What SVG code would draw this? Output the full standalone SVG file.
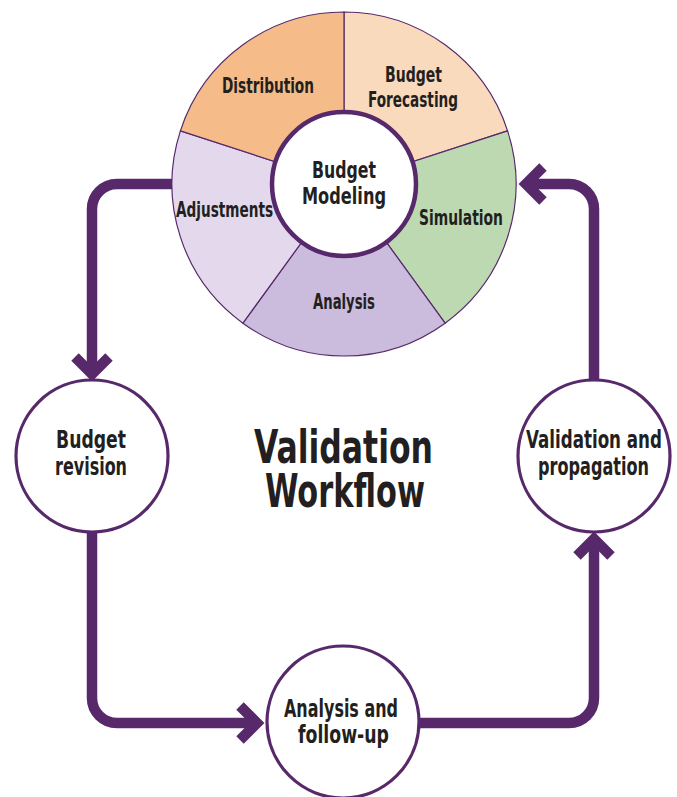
<svg xmlns="http://www.w3.org/2000/svg" width="677" height="797" viewBox="0 0 677 797">
<style>
.t{font-family:"DejaVu Sans Condensed","DejaVu Sans","Liberation Sans",sans-serif;font-weight:bold;fill:#231F20;text-anchor:middle}
.p{font-size:21px}
.n{font-size:24px}
.wedge{stroke:#57296B;stroke-width:1.2}
.node{fill:#FFFFFF;stroke:#57296B;stroke-width:3.2}
.c{fill:none;stroke:#57296B;stroke-width:10.5;stroke-linejoin:miter}
</style>
<rect width="677" height="797" fill="#FFFFFF"/>
<g id="connectors">
<path class="c" d="M172,184 H117 A25,25 0 0 0 92,209 V374"/>
<path class="c" d="M75,357 L92,374 L109,357"/>
<path class="c" d="M92,532 V698 A25,25 0 0 0 117,723 H257"/>
<path class="c" d="M240,706 L257,723 L240,740"/>
<path class="c" d="M420,723 H569 A25,25 0 0 0 594,698 V539"/>
<path class="c" d="M577,556 L594,539 L611,556"/>
<path class="c" d="M594,380 V209 A25,25 0 0 0 569,184 H526"/>
<path class="c" d="M543,167 L526,184 L543,201"/>
</g>
<g id="budget-modeling">
<g id="forecasting"><path class="wedge" fill="#F9DABD" d="M344,184 L344,12 A172,172 0 0 1 507.58,130.85 Z"/>
<text class="t p" x="413.5" y="82" textLength="57" lengthAdjust="spacingAndGlyphs">Budget</text>
<text class="t p" x="413" y="107" textLength="90" lengthAdjust="spacingAndGlyphs">Forecasting</text></g>
<g id="simulation"><path class="wedge" fill="#BDD9B1" d="M344,184 L507.58,130.85 A172,172 0 0 1 445.10,323.15 Z"/>
<text class="t p" x="461" y="225" textLength="84" lengthAdjust="spacingAndGlyphs">Simulation</text></g>
<g id="analysis"><path class="wedge" fill="#CBBBDC" d="M344,184 L445.10,323.15 A172,172 0 0 1 242.90,323.15 Z"/>
<text class="t p" x="344" y="309" textLength="62" lengthAdjust="spacingAndGlyphs">Analysis</text></g>
<g id="adjustments"><path class="wedge" fill="#E4D9EC" d="M344,184 L242.90,323.15 A172,172 0 0 1 180.42,130.85 Z"/>
<text class="t p" x="224.5" y="217" textLength="97" lengthAdjust="spacingAndGlyphs">Adjustments</text></g>
<g id="distribution"><path class="wedge" fill="#F5BB88" d="M344,184 L180.42,130.85 A172,172 0 0 1 344,12 Z"/>
<text class="t p" x="268" y="93" textLength="92" lengthAdjust="spacingAndGlyphs">Distribution</text></g>
<g id="core"><circle cx="344" cy="184" r="72" fill="#FFFFFF" stroke="#57296B" stroke-width="4.5"/>
<text class="t" style="font-size:23px" x="344" y="178" textLength="64" lengthAdjust="spacingAndGlyphs">Budget</text>
<text class="t" style="font-size:23px" x="344" y="204" textLength="84" lengthAdjust="spacingAndGlyphs">Modeling</text></g>
</g>
<g id="budget-revision"><circle class="node" cx="92" cy="456" r="76"/>
<text class="t n" x="91" y="448" textLength="70" lengthAdjust="spacingAndGlyphs">Budget</text>
<text class="t n" x="91" y="475" textLength="72" lengthAdjust="spacingAndGlyphs">revision</text></g>
<g id="validation-propagation"><circle class="node" cx="594" cy="456" r="76"/>
<text class="t n" x="594" y="448" textLength="136" lengthAdjust="spacingAndGlyphs">Validation and</text>
<text class="t n" x="593.5" y="475" textLength="111" lengthAdjust="spacingAndGlyphs">propagation</text></g>
<g id="analysis-followup"><circle class="node" cx="343" cy="722" r="76"/>
<text class="t n" x="341" y="717" textLength="114" lengthAdjust="spacingAndGlyphs">Analysis and</text>
<text class="t n" x="343.5" y="743" textLength="91" lengthAdjust="spacingAndGlyphs">follow-up</text></g>
<g id="title">
<text class="t" style="font-size:47px" x="343.5" y="463" textLength="179" lengthAdjust="spacingAndGlyphs">Validation</text>
<text class="t" style="font-size:47px" x="345" y="507" textLength="160" lengthAdjust="spacingAndGlyphs">Workflow</text>
</g>
</svg>
